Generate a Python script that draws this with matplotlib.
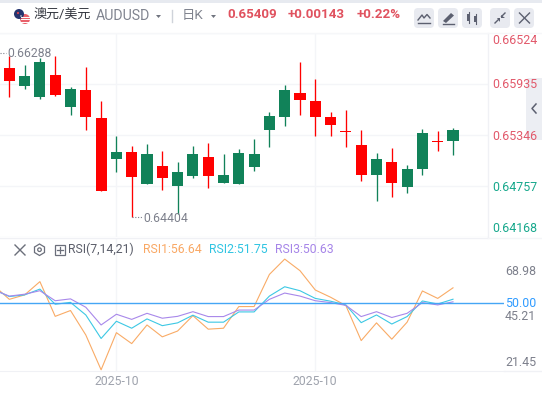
import matplotlib
matplotlib.use("Agg")
import matplotlib.pyplot as plt
from matplotlib.patches import FancyBboxPatch, Circle, Rectangle, Polygon

plt.rcParams['font.family'] = ['Roboto', 'Noto Sans CJK SC', 'DejaVu Sans']

# ---------- data ----------
opens = [.66117,.65910,.65786,.66037,.65671,.65864,.65541,.65068,.65149,.64780,.64988,.64757,.64872,.65091,.64792,.64780,.64976,.65403,.65556,.65829,.65737,.65549,.65395,.65230,.64884,.65034,.64746,.64953,.65281,.65276]
closes= [.65971,.66025,.66186,.65806,.65875,.65556,.64699,.65149,.64861,.65126,.64849,.64919,.65126,.64872,.64884,.65137,.65126,.65564,.65864,.65748,.65556,.65460,.65380,.64884,.65068,.64792,.64953,.65368,.65265,.65409]
highs = [.66255,.66152,.66232,.66255,.65898,.66129,.65737,.65333,.65218,.65241,.65160,.65034,.65218,.65253,.65126,.65184,.65299,.65610,.65921,.66186,.65990,.65610,.65633,.65403,.65137,.65195,.64999,.65414,.65391,.65426]
lows  = [.65786,.65879,.65763,.65795,.65575,.65403,.64699,.64919,.64400,.64780,.64711,.64434,.64849,.64734,.64792,.64780,.64930,.65207,.65449,.65575,.65333,.65333,.65207,.64815,.64584,.64630,.64676,.64884,.65160,.65114]
rsi_x = list(range(-1, 30))
rsi1 = [57.6,51.7,53.6,59.3,44.4,46.9,36.4,21.45,37.4,32.7,40.7,35.6,38.1,44.7,38.9,39.3,48.6,48.6,62.4,68.98,64.0,55.7,52.6,49.0,34.0,41.6,34.6,41.9,55.3,52.1,56.64]
rsi2 = [55.9,52.9,53.6,56.1,49.6,50.4,45.0,34.9,42.3,39.3,43.3,40.4,41.6,44.9,41.9,41.9,46.3,46.3,53.1,57.1,55.4,52.1,50.9,49.3,41.7,45.0,41.1,44.3,51.0,49.7,51.75]
rsi3 = [55.7,53.1,53.9,55.4,51.1,51.9,48.3,40.7,45.3,43.1,45.7,43.6,44.4,46.4,44.3,44.3,47.1,47.1,51.7,54.4,53.1,51.1,50.3,49.1,44.3,46.4,43.9,45.7,50.3,49.3,50.63]
price_ticks = [0.66524, 0.65935, 0.65346, 0.64757, 0.64168]
rsi_labels = [68.98, 50.00, 45.21, 21.45]
date_labels = ['2025-10', '2025-10']
date_idx = [7, 20]
high_idx, high_val = 0, 0.66288
low_idx, low_val = 8, 0.64404

# ---------- colours ----------
RED = '#ff0000'; GREEN = '#118259'; GRID = '#f4f5f8'
LRED = '#e2596b'; LGREEN = '#17a88c'; GRAY = '#7d808c'
W, H = 542, 393
fig = plt.figure(figsize=(W/100, H/100), dpi=100, facecolor='white')

def px_axes(x0, y0, x1, y1, **kw):
    return fig.add_axes([x0/W, 1-y1/H, (x1-x0)/W, (y1-y0)/H], **kw)

X0, DX = 9.3, 15.3
def xl(p0, p1):
    return ((p0-X0)/DX, (p1-X0)/DX)

# ---------- price pane ----------
ax = px_axes(0, 33, 488, 237)
ax.set_xlim(*xl(0, 488)); ax.set_ylim(price_ticks[-1], price_ticks[0])
ax.set_yticks(price_ticks); ax.set_xticks(date_idx)
ax.tick_params(length=0, labelleft=False, labelbottom=False)
ax.grid(True, color=GRID, lw=1.0); ax.set_axisbelow(True)
for s in ax.spines.values():
    s.set_visible(False)
for i in range(len(opens)):
    up = closes[i] >= opens[i]
    c = GREEN if up else RED
    ax.vlines(i, lows[i], highs[i], color=c, lw=0.95, zorder=3)
    ax.bar(i, abs(closes[i]-opens[i]), bottom=min(opens[i], closes[i]), width=0.72, color=c, lw=0, zorder=3)

ax.text(high_idx-0.15, high_val, f'{high_val:.5f}', fontsize=8.8, color=GRAY, va='center', ha='left', zorder=5)
ax.text(low_idx+0.76, low_val-0.00020, f'{low_val:.5f}', fontsize=8.8, color=GRAY, va='center', ha='left', zorder=5)
ax.plot([low_idx, low_idx+0.72], [low_val, low_val], color=GRAY, lw=0.8, ls=(0, (1, 1.5)), zorder=4)
ax.plot([-0.6, -0.2], [high_val+0.00008, high_val+0.00008], color=GRAY, lw=0.8, ls=(0, (1, 1.5)), zorder=4)

# ---------- RSI pane ----------
ar = px_axes(0, 238, 504, 371)
ar.set_xlim(*xl(0, 504)); ar.set_ylim(20.94, 78.03)
ar.set_yticks([]); ar.set_xticks(date_idx); ar.set_xticklabels(date_labels, fontsize=8.8, color='#9fa3ad')
ar.tick_params(length=0, pad=3)
ar.grid(True, axis='x', color=GRID, lw=1.0); ar.set_axisbelow(True)
for k, s in ar.spines.items():
    s.set_visible(k == 'bottom')
ar.spines['bottom'].set_color('#f0f1f5')
ar.plot(rsi_x, rsi1, color='#f9ab66', lw=0.8, zorder=3)
ar.plot(rsi_x, rsi2, color='#3cc8e4', lw=0.8, zorder=3)
ar.plot(rsi_x, rsi3, color='#a888ea', lw=0.8, zorder=3)
ar.axhline(50, color='#45a6f5', lw=1.0, zorder=4)

# ---------- overlay (interface chrome and axis labels) ----------
ov = px_axes(0, 0, W, H)
ov.set_xlim(0, W); ov.set_ylim(H, 0); ov.axis('off'); ov.patch.set_alpha(0)
ov.add_patch(Rectangle((0, 0), W, 2.5, color='#e7eaf0', lw=0))
ov.plot([488, 488], [33, 237], color='#f0f1f5', lw=1)
ov.plot([0, 488], [237.5, 237.5], color='#f0f1f5', lw=1)
ov.plot([488, 542], [237.5, 237.5], color='#f4f5f8', lw=1)
ov.plot([504, 542], [371, 371], color='#f0f1f5', lw=1)
ov.plot([0, 542], [32.5, 32.5], color='#f6f7f9', lw=1)

# flag
ov.add_patch(Circle((25, 19), 5, color='#e8606a', lw=0))
for y in (16.5, 19, 21.5):
    ov.plot([20.5, 29.5], [y, y], color='white', lw=0.7)
ov.add_patch(Circle((19, 14), 5, color='#26356f', lw=0))
ov.add_patch(Circle((18, 13), 1.1, color='#d9434f', lw=0))
ov.add_patch(Circle((21, 16), 0.7, color='white', lw=0))

ov.text(34, 15.5, '澳元/美元', fontsize=9.4, color='#33363f', va='center', ha='left')
ov.text(96, 16.5, 'AUDUSD', fontsize=10.2, color='#80848f', va='center', ha='left')
ov.add_patch(Polygon([[156, 15], [161, 15], [158.5, 18]], color='#70747f', lw=0))
ov.plot([172, 172], [10, 22], color='#cfd3da', lw=1)
ov.text(182, 15, '日K', fontsize=9.6, color='#80848f', va='center', ha='left')
ov.add_patch(Polygon([[211, 15], [216, 15], [213.5, 18]], color='#70747f', lw=0))
ov.text(227, 15, '0.65409', fontsize=9.6, color='#e0525f', fontweight='bold', va='center', ha='left')
ov.text(288, 15, '+0.00143', fontsize=9.6, color='#e0525f', fontweight='bold', va='center', ha='left')
ov.text(357, 15, '+0.22%', fontsize=9.6, color='#e0525f', fontweight='bold', va='center', ha='left')

# toolbar buttons
for x in (414, 438, 462, 490, 514):
    ov.add_patch(FancyBboxPatch((x+2, 10), 16, 16, boxstyle='round,pad=2,rounding_size=4', fc='#e8eaf0', ec='none'))
ic = '#5c6070'
ov.plot([418, 422, 424, 427, 430], [20, 15, 18, 14.5, 18], color=ic, lw=1)
ov.plot([418, 430], [23, 23], color=ic, lw=1)
ov.add_patch(Polygon([[443, 21], [451, 13], [454, 15.5], [446, 23]], color=ic, lw=0))
ov.plot([443, 454], [24.2, 24.2], color=ic, lw=1)
ov.add_patch(Rectangle((467, 14), 3, 7, color=ic, lw=0)); ov.plot([468.5, 468.5], [12, 23], color=ic, lw=0.8)
ov.add_patch(Rectangle((474, 16), 3, 6, color=ic, lw=0)); ov.plot([475.5, 475.5], [14, 24], color=ic, lw=0.8)
ov.plot([495, 498.5], [23, 19.5], color=ic, lw=1); ov.add_patch(Polygon([[496.5, 18], [500, 18], [500, 21.5]], color=ic, lw=0))
ov.plot([505, 501.5], [13, 16.5], color=ic, lw=1); ov.add_patch(Polygon([[501, 14.5], [501, 18], [504.5, 18]], color=ic, lw=0))
ov.plot([519.5, 529.5], [13, 23], color=ic, lw=1); ov.plot([529.5, 519.5], [13, 23], color=ic, lw=1)

# side tab
ov.add_patch(FancyBboxPatch((527, 79), 20, 60, boxstyle='round,pad=1,rounding_size=3', fc='#eceef3', ec='none'))
ov.plot([536, 532, 536], [104, 108.5, 113], color='#5c6070', lw=1.1)

# price labels
label_y = [41, 84.5, 136, 187.7, 228.5]
label_c = [LRED, LRED, LRED, LGREEN, LGREEN]
for v, y, c in zip(price_ticks, label_y, label_c):
    ov.text(492, y, f'{v:.5f}', fontsize=8.9, color=c, va='center', ha='left')

# RSI header
ov.plot([15, 25], [245, 255], color='#6b6f7b', lw=1); ov.plot([25, 15], [245, 255], color='#6b6f7b', lw=1)
ov.add_patch(Polygon([[39.5, 244], [44.5, 247], [44.5, 252.5], [39.5, 255.5], [34.5, 252.5], [34.5, 247]], fc='none', ec='#6b6f7b', lw=0.9))
ov.add_patch(Circle((39.5, 249.7), 1.8, fc='none', ec='#6b6f7b', lw=0.9))
ov.add_patch(Rectangle((54.5, 244.5), 10.5, 10.5, fc='none', ec='#6b6f7b', lw=0.9))
ov.plot([56.8, 62.8], [249.7, 249.7], color='#6b6f7b', lw=0.9); ov.plot([59.8, 59.8], [246.8, 252.8], color='#6b6f7b', lw=0.9)
ov.text(68, 249.7, 'RSI(7,14,21)', fontsize=8.8, color='#5b5e6a', va='center', ha='left')
ov.text(143, 249.7, f'RSI1:{rsi1[-1]:.2f}', fontsize=8.8, color='#f9a864', va='center', ha='left')
ov.text(209, 249.7, f'RSI2:{rsi2[-1]:.2f}', fontsize=8.8, color='#2fc4e2', va='center', ha='left')
ov.text(275, 249.7, f'RSI3:{rsi3[-1]:.2f}', fontsize=8.8, color='#a685e8', va='center', ha='left')

rsi_y = [271.7, 303.5, 317, 362]
rsi_c = [GRAY, '#2f9bff', GRAY, GRAY]
for v, y, c in zip(rsi_labels, rsi_y, rsi_c):
    ov.text(505, y, f'{v:.2f}', fontsize=8.9, color=c, va='center', ha='left')

fig.savefig('out.png', dpi=100, facecolor='white')
